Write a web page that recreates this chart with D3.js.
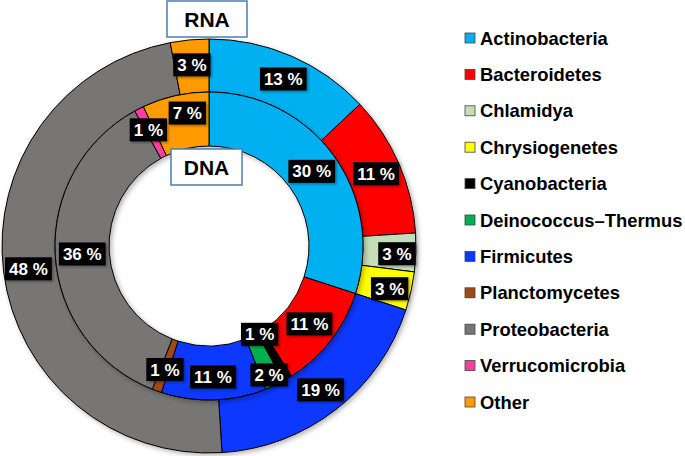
<!DOCTYPE html>
<html><head><meta charset="utf-8">
<script src="https://cdn.jsdelivr.net/npm/d3@7"></script>
<style>body{margin:0;background:#fff;} svg{display:block;font-family:"Liberation Sans",Arial,sans-serif;}</style>
</head><body><svg id="c" width="685" height="456"></svg>
<script>
// ---- data ----
const phyla = ["Actinobacteria","Bacteroidetes","Chlamidya","Chrysiogenetes","Cyanobacteria","Deinococcus–Thermus","Firmicutes","Planctomycetes","Proteobacteria","Verrucomicrobia","Other"];
const phylumColors = ["#00B0F0","#FF0000","#C5DEB8","#FFFF00","#000000","#00B050","#0A38FF","#9E4A12","#787575","#FF3C9E","#FF9A00"];
const rnaPhyla = ["Actinobacteria","Bacteroidetes","Chlamidya","Chrysiogenetes","Firmicutes","Proteobacteria","Other"];
const rnaValues = [13,11,3,3,19,48,3];
const dnaPhyla = ["Actinobacteria","Bacteroidetes","Cyanobacteria","Deinococcus–Thermus","Firmicutes","Planctomycetes","Proteobacteria","Verrucomicrobia","Other"];
const dnaValues = [30,11,1,2,11,1,36,1,7];

// label nudges (layout only)
const nudge = {
  "RNA|Actinobacteria":[2,0], "RNA|Chlamidya":[6,2], "RNA|Chrysiogenetes":[3,3],
  "DNA|Cyanobacteria":[-14,-21], "DNA|Deinococcus–Thermus":[6,14], "DNA|Firmicutes":[0,4], "DNA|Other":[6,-9],
  "DNA|Planctomycetes":[-1,4], "DNA|Verrucomicrobia":[-3,-3]
};

const svg = d3.select("#c");
const color = d3.scaleOrdinal().domain(phyla).range(phylumColors);
const cx = 209, cy = 246;
const R = {outer:207, mid:154, inner:100};

const defs = svg.append("defs");
const f = defs.append("filter").attr("id","sh").attr("x","-20%").attr("y","-20%").attr("width","140%").attr("height","140%");
f.append("feDropShadow").attr("dx",2).attr("dy",2).attr("stdDeviation",2.5).attr("flood-color","#000").attr("flood-opacity",0.3);
const f2 = defs.append("filter").attr("id","sh2").attr("x","-30%").attr("y","-30%").attr("width","160%").attr("height","160%");
f2.append("feDropShadow").attr("dx",1.5).attr("dy",1.5).attr("stdDeviation",1.2).attr("flood-color","#000").attr("flood-opacity",0.35);

const pie = d3.pie().sort(null).value(d=>d.v);
const g = svg.append("g").attr("transform",`translate(${cx},${cy})`);

function ring(name, cats, vals, r0, r1, lr){
  const data = pie(cats.map((c,i)=>({c, v:vals[i]})));
  const arc = d3.arc().innerRadius(r0).outerRadius(r1);
  const rg = g.append("g").attr("filter","url(#sh)");
  rg.selectAll("path").data(data).join("path")
    .attr("d",arc).attr("fill",d=>color(d.data.c))
    .attr("stroke","#000").attr("stroke-width",1);
  return {data, arc:d3.arc().innerRadius(lr).outerRadius(lr), name};
}
const rna = ring("RNA", rnaPhyla, rnaValues, R.mid, R.outer, 182);
const dna = ring("DNA", dnaPhyla, dnaValues, R.inner, R.mid, 127);

const lg = g.append("g");
[rna, dna].forEach(rg=>{
  rg.data.forEach(d=>{
    const [x,y] = rg.arc.centroid(d);
    const n = nudge[rg.name+"|"+d.data.c] || [0,0];
    const t = lg.append("g").attr("transform",`translate(${x+n[0]},${y+n[1]})`);
    const txt = t.append("text").text(d.data.v+" %")
      .attr("text-anchor","middle").attr("dy","0.36em")
      .attr("fill","#fff").attr("font-weight","bold").attr("font-size",17);
    const w = txt.node().getComputedTextLength() + 8;
    t.insert("rect","text").attr("x",-w/2).attr("y",-11.5).attr("width",w).attr("height",23)
      .attr("fill","#000").attr("filter","url(#sh2)");
  });
});

// title boxes
function tag(label, x, y, w, h){
  const t = svg.append("g");
  t.append("rect").attr("x",x).attr("y",y).attr("width",w).attr("height",h)
    .attr("fill","#fff").attr("stroke","#4A7EB0").attr("stroke-width",1.5);
  t.append("text").attr("x",x+w/2).attr("y",y+h/2).attr("dy","0.36em")
    .attr("text-anchor","middle").attr("font-weight","bold").attr("font-size",21).attr("fill","#000").text(label);
}
tag("RNA",167,1,80,36);
tag("DNA",171,149,71,36);

// legend
const ly = d3.scalePoint().domain(phyla).range([38,402]);
const leg = svg.append("g");
phyla.forEach(p=>{
  leg.append("rect").attr("x",465).attr("y",ly(p)-5).attr("width",10).attr("height",10)
    .attr("fill",color(p)).attr("stroke","#444").attr("stroke-width",0.8);
  leg.append("text").attr("x",480).attr("y",ly(p)).attr("dy","0.36em")
    .attr("font-weight","bold").attr("font-size",18.4).attr("fill","#000").text(p);
});
</script></body></html>
